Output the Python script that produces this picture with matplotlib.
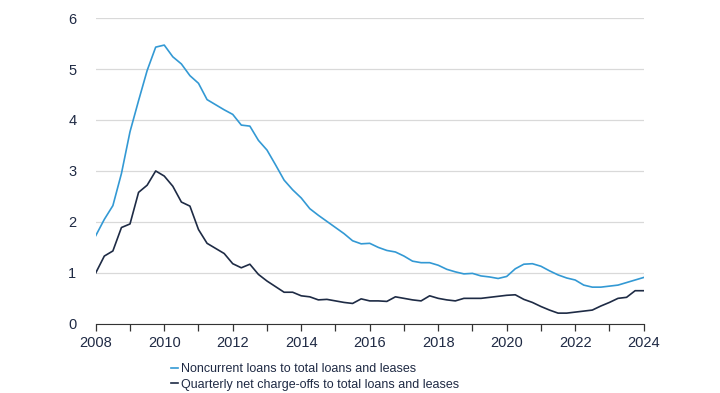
import numpy as np
import matplotlib
matplotlib.use("Agg")
import matplotlib.pyplot as plt

plt.rcParams["font.family"] = ["Liberation Sans", "DejaVu Sans"]

# quarterly observations, 2008Q1 .. 2024Q1
quarters = 2008 + np.arange(65) / 4

noncurrent = [1.73, 2.05, 2.32, 2.95, 3.77, 4.38, 4.97, 5.43,
              5.47, 5.24, 5.10, 4.87, 4.72, 4.40, 4.30, 4.20,
              4.11, 3.90, 3.88, 3.60, 3.41, 3.12, 2.82, 2.63,
              2.47, 2.26, 2.13, 2.01, 1.89, 1.77, 1.63, 1.57,
              1.58, 1.50, 1.44, 1.41, 1.33, 1.23, 1.20, 1.20,
              1.15, 1.07, 1.02, 0.98, 0.99, 0.94, 0.92, 0.89,
              0.93, 1.08, 1.17, 1.18, 1.13, 1.04, 0.96, 0.90,
              0.86, 0.76, 0.72, 0.72, 0.74, 0.76, 0.81, 0.86,
              0.91]

chargeoffs = [1.00, 1.33, 1.43, 1.89, 1.96, 2.58, 2.72, 3.00,
              2.90, 2.70, 2.39, 2.31, 1.85, 1.58, 1.48, 1.38,
              1.18, 1.10, 1.17, 0.97, 0.84, 0.73, 0.62, 0.62,
              0.55, 0.53, 0.47, 0.48, 0.45, 0.42, 0.40, 0.49,
              0.45, 0.45, 0.44, 0.53, 0.50, 0.47, 0.45, 0.55,
              0.50, 0.47, 0.45, 0.50, 0.50, 0.50, 0.52, 0.54,
              0.56, 0.57, 0.48, 0.42, 0.34, 0.27, 0.21, 0.21,
              0.23, 0.25, 0.27, 0.35, 0.42, 0.50, 0.52, 0.65,
              0.65]

labels = ["Noncurrent loans to total loans and leases",
          "Quarterly net charge-offs to total loans and leases"]

text_col = "#1f2a44"

fig = plt.figure(figsize=(7.2, 3.93), dpi=100)
ax = fig.add_axes([0.133, 0.176, 0.761, 0.778])

ax.plot(quarters, noncurrent, color="#3399d4", lw=1.2, label=labels[0])
ax.plot(quarters, chargeoffs, color="#1e2b45", lw=1.2, label=labels[1])

ax.set_xlim(2008, 2024)
ax.set_ylim(0, 6)
ax.set_yticks(range(0, 7))
ax.set_xticks(range(2008, 2025))
ax.set_xticklabels([str(y) if y % 2 == 0 else "" for y in range(2008, 2025)])

ax.grid(axis="y", color="#d9d9d9", lw=0.9)
ax.set_axisbelow(True)
for s in ["left", "right", "top"]:
    ax.spines[s].set_visible(False)
ax.spines["bottom"].set_color("#333333")
ax.tick_params(axis="y", length=0, pad=14, labelsize=10.5, labelcolor=text_col)
ax.tick_params(axis="x", length=5, width=0.9, color="#333333", labelsize=10.5,
               labelcolor=text_col)

leg = ax.legend(loc="upper left", bbox_to_anchor=(0.128, -0.112), frameon=False,
                fontsize=9, handlelength=0.6, handletextpad=0.2,
                labelspacing=0.3, borderaxespad=0)
for t in leg.get_texts():
    t.set_color(text_col)

fig.savefig("out.png", dpi=100)
